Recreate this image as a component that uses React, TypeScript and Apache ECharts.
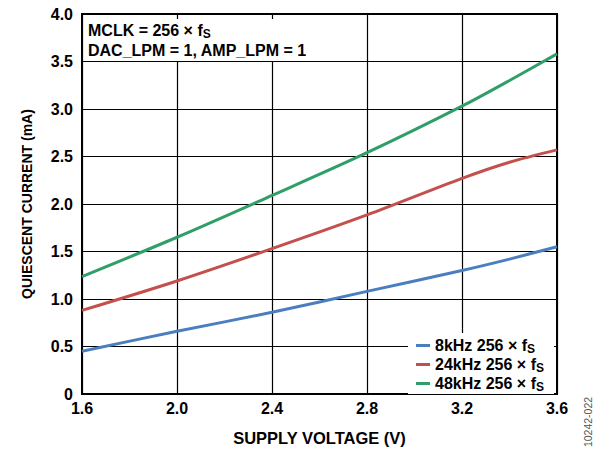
import React, { useEffect, useRef } from "react";
import * as echarts from "echarts";

const voltages = [1.6, 2.0, 2.4, 2.8, 3.2, 3.4, 3.6];
const current8k = [0.45, 0.66, 0.86, 1.08, 1.30, 1.42, 1.55];
const current24k = [0.88, 1.19, 1.53, 1.885, 2.27, 2.44, 2.57];
const current48k = [1.236, 1.65, 2.09, 2.54, 3.03, 3.30, 3.58];
const seriesNames = ["8kHz 256 × f", "24kHz 256 × f", "48kHz 256 × f"];
const seriesColors = ["#4a7ebf", "#c4504d", "#2f9e68"];

const FONT = "Liberation Sans, Arial, sans-serif";

export default function App() {
  const ref = useRef<HTMLDivElement>(null);
  useEffect(() => {
    const chart = echarts.init(ref.current!, null, { renderer: "svg" });
    const all = [current8k, current24k, current48k];
    const series = all.map((arr, i) => ({
      name: seriesNames[i],
      type: "line",
      data: voltages.map((v, j) => [v, arr[j]]),
      smooth: 0.3,
      showSymbol: false,
      lineStyle: { color: seriesColors[i], width: 3 },
      itemStyle: { color: seriesColors[i] },
      z: 2,
    }));
    chart.setOption({
      animation: false,
      backgroundColor: "#fff",
      grid: {
        left: 82, right: 41, top: 14, bottom: 55,
        show: true, borderColor: "#000", borderWidth: 2, containLabel: false,
      },
      xAxis: {
        type: "value", min: 1.6, max: 3.6, interval: 0.4,
        name: "SUPPLY VOLTAGE (V)", nameLocation: "middle", nameGap: 35,
        nameTextStyle: { fontFamily: FONT, fontWeight: "bold", fontSize: 16.5, color: "#000" },
        axisLine: { show: true, lineStyle: { color: "#000", width: 2 } },
        axisTick: { show: false },
        axisLabel: {
          fontFamily: FONT, fontWeight: "bold", fontSize: 16, color: "#000", margin: 6,
          formatter: (v: number) => v.toFixed(1),
        },
        splitLine: { show: true, lineStyle: { color: "#000", width: 1.2 } },
      },
      yAxis: {
        type: "value", min: 0, max: 4, interval: 0.5,
        name: "QUIESCENT CURRENT (mA)", nameLocation: "middle", nameGap: 48,
        nameTextStyle: { fontFamily: FONT, fontWeight: "bold", fontSize: 14, color: "#000" },
        axisLine: { show: true, lineStyle: { color: "#000", width: 2 } },
        axisTick: { show: false },
        axisLabel: {
          fontFamily: FONT, fontWeight: "bold", fontSize: 16, color: "#000", margin: 9,
          formatter: (v: number) => (v === 0 ? "0" : v.toFixed(1)),
        },
        splitLine: { show: true, lineStyle: { color: "#000", width: 1.2 } },
      },
      legend: {
        orient: "vertical",
        left: 416, top: 336,
        itemWidth: 14, itemHeight: 3, icon: "rect", itemGap: 0,
        padding: 0,
        data: seriesNames,
        formatter: (n: string) => `{a|${n}}{s|S}`,
        textStyle: {
          rich: {
            a: { fontSize: 16, fontWeight: "bold", fontFamily: FONT, color: "#000", lineHeight: 18 },
            s: { fontSize: 12, fontWeight: "bold", fontFamily: FONT, color: "#000", padding: [7, 0, 0, 0], lineHeight: 18 },
          },
        },
      },
      graphic: [
        { type: "rect", z: 3, shape: { x: 84, y: 19, width: 226, height: 42 }, style: { fill: "#fff" } },
        { type: "rect", z: 3, shape: { x: 408, y: 333, width: 146, height: 61 }, style: { fill: "#fff" } },
        {
          type: "text", z: 4, left: 88, top: 21,
          style: {
            text: "{a|MCLK = 256 × f}{s|S}\n{a|DAC_LPM = 1, AMP_LPM = 1}",
            rich: {
              a: { fontSize: 16, fontWeight: "bold", fontFamily: FONT, fill: "#000", lineHeight: 20 },
              s: { fontSize: 12, fontWeight: "bold", fontFamily: FONT, fill: "#000", padding: [7, 0, 0, 0], lineHeight: 20 },
            },
          },
        },
        {
          type: "text", z: 4, x: 588, y: 422, rotation: Math.PI / 2,
          style: {
            text: "10242-022", fontSize: 10.5, fontFamily: FONT, fill: "#555",
            align: "center", verticalAlign: "middle",
          },
        },
      ],
      series,
    });
    return () => chart.dispose();
  }, []);
  return <div ref={ref} style={{ width: 598, height: 451, position: "absolute", left: 0, top: 0 }} />;
}
